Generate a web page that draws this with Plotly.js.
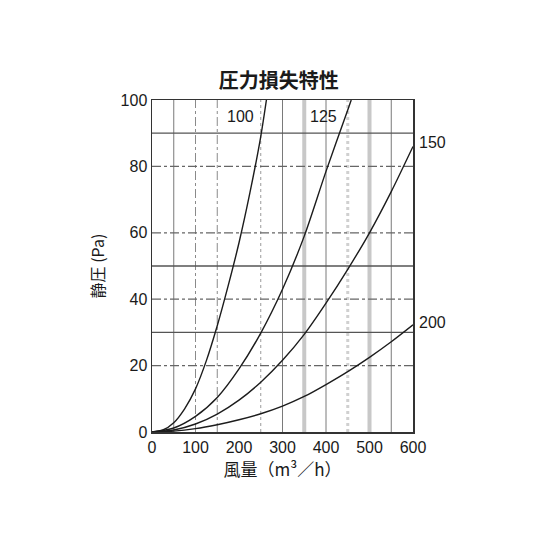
<!DOCTYPE html>
<html>
<head>
<meta charset="utf-8">
<script src="https://cdn.plot.ly/plotly-3.0.1.min.js"></script>
<style>html,body{margin:0;padding:0;background:#fff;}#chart{width:550px;height:550px;}</style>
</head>
<body>
<div id="chart"></div>
<script>
// Airflow (m³/h) and static pressure (Pa)
const q100 = [0, 25, 50, 75, 100, 125, 150, 175, 200, 225, 250, 263];
const p100 = [0, 0.6, 2.8, 7, 13, 21.5, 32, 44, 57, 72, 89, 100];

const q125 = [0, 50, 100, 150, 200, 250, 300, 350, 400, 450, 458];
const p125 = [0, 1.2, 4.7, 10.4, 19, 29.8, 43, 59, 78.5, 97, 100];

const q150 = [0, 50, 100, 150, 200, 250, 300, 350, 400, 450, 500, 550, 600];
const p150 = [0, 0.6, 2.4, 5.4, 9.6, 15, 21.6, 29.4, 38.8, 49, 60, 72.4, 86];

const q200 = [0, 50, 100, 150, 200, 250, 300, 350, 400, 450, 500, 550, 600];
const p200 = [0, 0.25, 1, 2.2, 3.7, 5.5, 7.8, 10.7, 14.3, 18.2, 22.5, 27.2, 32.3];

const seriesNames = ["100", "125", "150", "200"];
const labelQ = [204, 395, 644, 644];
const labelP = [95, 95, 87.3, 33.1];

const xRange = [0, 600];
const yRange = [0, 100];
const xTickVals = [0, 100, 200, 300, 400, 500, 600];
const yTickVals = [0, 20, 40, 60, 80, 100];

// grid lines of the printed chart (positions in data units)
const vSolid = [50, 300, 400, 550];
const vDash = [100];
const vDashDot = [150];
const vDot = [250];
const vGrayBand = [350, 500];
const vGrayDot = [450];
const hSolid = [30, 50, 90];
const hDashDot = [20, 40, 60, 80];

const titleText = "圧力損失特性";
const xTitle = "風量（m³／h）";
const yTitle = "静圧 (Pa)";

const FONT = "Liberation Sans, Arial, 'Noto Sans CJK JP', sans-serif";
const CJK = "'Noto Sans CJK JP', 'Liberation Sans', sans-serif";

const qs = [q100, q125, q150, q200];
const ps = [p100, p125, p150, p200];
const traces = qs.map((q, i) => ({
  x: q, y: ps[i], type: "scatter", mode: "lines", name: seriesNames[i],
  line: {color: "#1c1c1c", width: 1.4, shape: "spline", smoothing: 0.8},
  hoverinfo: "skip", showlegend: false
}));

const shapes = [];
function vline(x, color, width, dash) {
  shapes.push({type: "line", xref: "x", yref: "paper", x0: x, x1: x, y0: 0, y1: 1,
    line: {color: color, width: width, dash: dash}, layer: "below"});
}
function hline(y, color, width, dash) {
  shapes.push({type: "line", xref: "paper", yref: "y", x0: 0, x1: 1, y0: y, y1: y,
    line: {color: color, width: width, dash: dash}, layer: "below"});
}
vGrayBand.forEach(x => vline(x, "#c8c8c8", 4, "solid"));
vGrayDot.forEach(x => vline(x, "#d0d0d0", 3, "dot"));
vSolid.forEach(x => vline(x, "#7a7a7a", 1, "solid"));
vDash.forEach(x => vline(x, "#8a8a8a", 1, "dashdot"));
vDashDot.forEach(x => vline(x, "#8a8a8a", 1, "dashdot"));
vDot.forEach(x => vline(x, "#9a9a9a", 1, "dot"));
hSolid.forEach(y => hline(y, "#555", 1.3, "solid"));
hDashDot.forEach(y => hline(y, "#666", 1.2, "dashdot"));

// series labels: placed in paper units derived from the axis ranges (two sit outside the plot)
const annotations = seriesNames.map((n, i) => ({
  x: (labelQ[i] - xRange[0]) / (xRange[1] - xRange[0]),
  y: (labelP[i] - yRange[0]) / (yRange[1] - yRange[0]),
  xref: "paper", yref: "paper", text: n, showarrow: false,
  font: {family: FONT, size: 16, color: "#1a1a1a"}, xanchor: "center", yanchor: "middle"
}));

const layout = {
  width: 550, height: 550,
  margin: {l: 152, r: 137, t: 100, b: 118},
  paper_bgcolor: "#fff", plot_bgcolor: "#fff",
  font: {family: FONT, size: 16, color: "#1a1a1a"},
  title: {text: titleText, font: {family: CJK, size: 20, color: "#1a1a1a", weight: "bold"},
    xref: "container", yref: "container", x: 0.507, y: 0.853, xanchor: "center", yanchor: "middle"},
  xaxis: {
    range: xRange, tickvals: xTickVals, ticktext: xTickVals.map(String),
    showgrid: false, zeroline: false, showline: true, mirror: true,
    linecolor: "#333", linewidth: 1.5, ticks: "",
    tickfont: {family: FONT, size: 16, color: "#1a1a1a"},
    title: {text: xTitle, font: {family: CJK, size: 17, color: "#1a1a1a"}, standoff: 6},
    automargin: false, fixedrange: true
  },
  yaxis: {
    range: yRange, tickvals: yTickVals, ticktext: yTickVals.map(String),
    showgrid: false, zeroline: false, showline: true, mirror: true,
    linecolor: "#333", linewidth: 1.5, ticks: "",
    tickfont: {family: FONT, size: 16, color: "#1a1a1a"},
    title: {text: yTitle, font: {family: CJK, size: 16, color: "#1a1a1a"}, standoff: 12},
    automargin: false, fixedrange: true
  },
  shapes: shapes,
  annotations: annotations
};

Plotly.newPlot("chart", traces, layout, {staticPlot: true, displayModeBar: false});
</script>
</body>
</html>
